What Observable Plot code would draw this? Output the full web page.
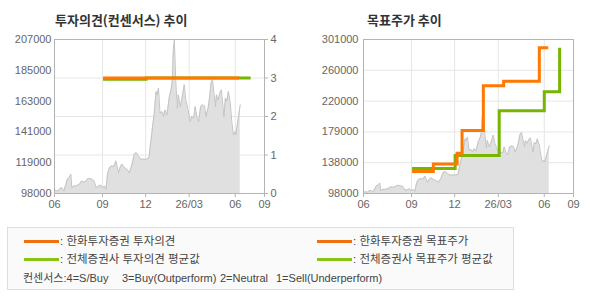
<!DOCTYPE html>
<html><head><meta charset="utf-8">
<script src="https://cdn.jsdelivr.net/npm/d3@7"></script>
<script src="https://cdn.jsdelivr.net/npm/@observablehq/plot@0.6"></script>
<style>
html,body{margin:0;padding:0;background:#fff;}
#root{position:relative;width:590px;height:300px;overflow:hidden;font-family:"Liberation Sans",Arial,"Noto Sans CJK KR",sans-serif;}
.title{position:absolute;top:13px;font-weight:bold;font-size:13px;font-family:"Noto Sans CJK KR",sans-serif;color:#333;line-height:14px;white-space:nowrap;}
.chart{position:absolute;top:0;}
.legend{position:absolute;left:7px;top:227px;width:507px;height:63px;box-sizing:border-box;border:1px solid #ddd;background:#fafafa;}
.sw{position:absolute;height:3px;width:35px;}
.lt{position:absolute;font-size:11.5px;line-height:12px;color:#444;white-space:pre;}
.lt.small{font-size:11px;}
</style></head>
<body><div id="root"></div>
<script>
// ---------- data ----------
const xDomainDates = ["2025-06-01", "2026-07-30"];
const xTickDates = ["2025-06-01", "2025-09-06", "2025-12-02", "2026-02-28", "2026-06-01", "2026-07-30"];
const xTickLabels = ["06", "09", "12", "26/03", "06", "09"];

const leftPriceLabels = [98000, 119000, 141000, 163000, 185000, 207000];
const rightPriceLabels = [98000, 138000, 179000, 220000, 260000, 301000];
const opinionTicks = [0, 1, 2, 3, 4];

const priceDates = [
"2025-06-01","2025-06-04","2025-06-09","2025-06-12","2025-06-16","2025-06-20","2025-06-24","2025-06-27",
"2025-07-01","2025-07-04","2025-07-06","2025-07-10","2025-07-16","2025-07-21","2025-07-26","2025-07-29",
"2025-08-04","2025-08-08","2025-08-15","2025-08-20","2025-08-24","2025-08-29",
"2025-09-02","2025-09-06","2025-09-10","2025-09-13","2025-09-16","2025-09-20","2025-09-25","2025-09-29",
"2025-10-03","2025-10-08","2025-10-11","2025-10-15","2025-10-20","2025-10-25","2025-10-30",
"2025-11-04","2025-11-09","2025-11-13","2025-11-17","2025-11-22","2025-11-28",
"2025-12-04","2025-12-09","2025-12-11","2025-12-13","2025-12-16","2025-12-19","2025-12-23","2025-12-25","2025-12-28","2025-12-31",
"2026-01-04","2026-01-07","2026-01-10","2026-01-14","2026-01-19","2026-01-23","2026-01-25","2026-01-27","2026-01-29",
"2026-02-01","2026-02-04","2026-02-06","2026-02-10","2026-02-13","2026-02-18","2026-02-21","2026-02-25",
"2026-03-02","2026-03-05","2026-03-09","2026-03-12","2026-03-16","2026-03-19","2026-03-23","2026-03-27","2026-03-31",
"2026-04-03","2026-04-07","2026-04-10","2026-04-13","2026-04-16","2026-04-19","2026-04-22","2026-04-24","2026-04-27",
"2026-05-01","2026-05-04","2026-05-06","2026-05-09","2026-05-12","2026-05-15","2026-05-18","2026-05-22","2026-05-25","2026-05-28","2026-05-31",
"2026-06-02","2026-06-05","2026-06-08","2026-06-11"];
const priceValues = [
101000,100000,99800,101500,102100,99800,104500,108100,
109300,111700,102100,103300,103500,104500,106900,106000,
106900,108800,108100,107000,102100,103300,
104000,102100,103300,101000,111700,116400,117600,117000,
121100,112800,116000,118800,116400,115200,112800,
117600,125900,127000,124700,122300,122300,
122300,123500,130600,135800,145300,153600,170200,167900,172600,154800,
156000,152400,157200,153600,166700,172600,178500,199900,206500,
176100,158300,167900,159500,164300,175000,164300,158300,
148900,152400,151200,159500,151200,148900,159500,160700,160000,
152400,158300,165500,176100,178500,169000,159500,167900,164300,
169000,171400,164300,152400,165500,163300,170200,161900,148900,139400,141800,
139400,146500,153600,160700];

// 투자의견
const hanwhaOpinionDates = ["2025-09-07", "2026-06-09"];
const hanwhaOpinionValues = [3, 3];
const avgOpinionDates = ["2025-09-07", "2025-12-03", "2026-07-02"];
const avgOpinionValues = [2.97, 3, 3];

// 목표주가
const hanwhaTargetDates = ["2025-09-07","2025-10-20","2025-12-07","2025-12-17","2026-01-29","2026-03-11","2026-05-22","2026-06-09"];
const hanwhaTargetValues = [127000,137000,151000,181000,240000,246000,290000,290000];
const avgTargetDates = ["2025-09-07","2025-12-03","2026-03-02","2026-06-01","2026-07-02"];
const avgTargetValues = [131000,148000,207000,232000,290000];

const titles = ["투자의견(컨센서스) 추이", "목표주가 추이"];
const legendLabels = [": 한화투자증권 투자의견", ": 전체증권사 투자의견 평균값", ": 한화투자증권 목표주가", ": 전체증권사 목표주가 평균값"];
const consensusLabels = ["컨센서스:4=S/Buy", "3=Buy(Outperform)", "2=Neutral", "1=Sell(Underperform)"];

const ORANGE = "#ff7800", GREEN = "#77b500";
const ORANGE_LG = "#f07010", GREEN_LG = "#88c414";

// ---------- build ----------
const parse = d3.utcParse("%Y-%m-%d");
const zip = (ds, vs) => ds.map((d, i) => ({date: parse(d), value: vs[i]}));
const price = zip(priceDates, priceValues);
const hanwhaOp = zip(hanwhaOpinionDates, hanwhaOpinionValues);
const avgOp = zip(avgOpinionDates, avgOpinionValues);
const hanwhaTp = zip(hanwhaTargetDates, hanwhaTargetValues);
const avgTp = zip(avgTargetDates, avgTargetValues);

const xDomain = xDomainDates.map(parse);
const xTicks = xTickDates.map(parse);
const xLabel = new Map(xTicks.map((d, i) => [+d, xTickLabels[i]]));

function evenTicks(labels) {
  const lo = labels[0], hi = labels[labels.length - 1], n = labels.length;
  const ticks = labels.map((_, i) => lo + i * (hi - lo) / (n - 1));
  const fmt = new Map(ticks.map((t, i) => [t, String(labels[i])]));
  return {lo, hi, ticks, fmt};
}
const L = evenTicks(leftPriceLabels);
const R = evenTicks(rightPriceLabels);
const opMax = opinionTicks[opinionTicks.length - 1];
const toPrice = v => L.lo + v / opMax * (L.hi - L.lo);
const opTickPos = opinionTicks.map(toPrice);
const opFmt = new Map(opTickPos.map((t, i) => [t, String(opinionTicks[i])]));

const style = {fontFamily: "'Liberation Sans', Arial, sans-serif", fontSize: "11px", color: "#666", background: "transparent", overflow: "visible"};
const lineOpts = {curve: "step-after", strokeWidth: 3, strokeLinejoin: "miter", strokeLinecap: "butt", strokeMiterlimit: 4};

function commonMarks(S) {
  return [
    Plot.areaY(price, {x: "date", y1: S.lo, y2: "value", fill: "#e0e0e0"}),
    Plot.lineY(price, {x: "date", y: "value", stroke: "#c4c4c4", strokeWidth: 1})
  ];
}

const left = Plot.plot({
  width: 295, height: 215, marginLeft: 54, marginRight: 31, marginTop: 39, marginBottom: 22,
  x: {type: "utc", domain: xDomain, label: null},
  y: {domain: [L.lo, L.hi], label: null},
  style,
  marks: [
    Plot.gridX(xTicks, {stroke: "#e6e6e6", strokeOpacity: 1}),
    Plot.gridY(opTickPos, {stroke: "#e6e6e6", strokeOpacity: 1}),
    ...commonMarks(L),
    Plot.line(avgOp, {x: "date", y: d => toPrice(d.value), stroke: GREEN, ...lineOpts}),
    Plot.line(hanwhaOp, {x: "date", y: d => toPrice(d.value), stroke: ORANGE, ...lineOpts}),
    Plot.frame({stroke: "#b4b4b4"}),
    Plot.axisX(xTicks, {label: null, tickSize: 4, tickPadding: 3, stroke: "#b4b4b4", fill: "#666", tickFormat: d => xLabel.get(+d)}),
    Plot.axisY(L.ticks, {label: null, anchor: "left", tickSize: 0, tickPadding: 3, fill: "#666", tickFormat: d => L.fmt.get(d)}),
    Plot.axisY(opTickPos, {label: null, anchor: "right", tickSize: 3, tickPadding: 3, stroke: "#b4b4b4", fill: "#666", tickFormat: d => opFmt.get(d)})
  ]
});

const right = Plot.plot({
  width: 300, height: 215, marginLeft: 73, marginRight: 17, marginTop: 39, marginBottom: 22,
  x: {type: "utc", domain: xDomain, label: null},
  y: {domain: [R.lo, R.hi], label: null},
  style,
  marks: [
    Plot.gridX(xTicks, {stroke: "#e6e6e6", strokeOpacity: 1}),
    Plot.gridY(R.ticks, {stroke: "#e6e6e6", strokeOpacity: 1}),
    ...commonMarks(R),
    Plot.line(avgTp, {x: "date", y: "value", stroke: GREEN, ...lineOpts}),
    Plot.line(hanwhaTp, {x: "date", y: "value", stroke: ORANGE, ...lineOpts}),
    Plot.frame({stroke: "#b4b4b4"}),
    Plot.axisX(xTicks, {label: null, tickSize: 4, tickPadding: 3, stroke: "#b4b4b4", fill: "#666", tickFormat: d => xLabel.get(+d)}),
    Plot.axisY(R.ticks, {label: null, anchor: "left", tickSize: 0, tickPadding: 5, fill: "#666", tickFormat: d => R.fmt.get(d)})
  ]
});

const root = document.getElementById("root");
left.classList.add("chart"); left.style.left = "0px";
right.classList.add("chart"); right.style.left = "290px";
root.appendChild(left); root.appendChild(right);

[[titles[0], 55], [titles[1], 367]].forEach(([t, x]) => {
  const d = document.createElement("div");
  d.className = "title"; d.style.left = x + "px"; d.textContent = t;
  root.appendChild(d);
});

const legend = document.createElement("div");
legend.className = "legend";
root.appendChild(legend);
// legend positions relative to legend box (box at 7,227)
const items = [
  {label: legendLabels[0], color: ORANGE_LG, x: 16, y: 13},
  {label: legendLabels[1], color: GREEN_LG, x: 16, y: 31},
  {label: legendLabels[2], color: ORANGE_LG, x: 309, y: 13},
  {label: legendLabels[3], color: GREEN_LG, x: 309, y: 31}
];
items.forEach(it => {
  const s = document.createElement("div");
  s.className = "sw"; s.style.left = it.x + "px"; s.style.top = (it.y - 1) + "px"; s.style.background = it.color;
  legend.appendChild(s);
  const t = document.createElement("div");
  t.className = "lt"; t.style.left = (it.x + 36) + "px"; t.style.top = (it.y - 6) + "px"; t.textContent = it.label;
  legend.appendChild(t);
});
[15, 114, 212, 268].forEach((x, i) => {
  const t = document.createElement("div");
  t.className = "lt small"; t.style.left = x + "px"; t.style.top = "44px"; t.textContent = consensusLabels[i];
  legend.appendChild(t);
});
</script></body></html>
